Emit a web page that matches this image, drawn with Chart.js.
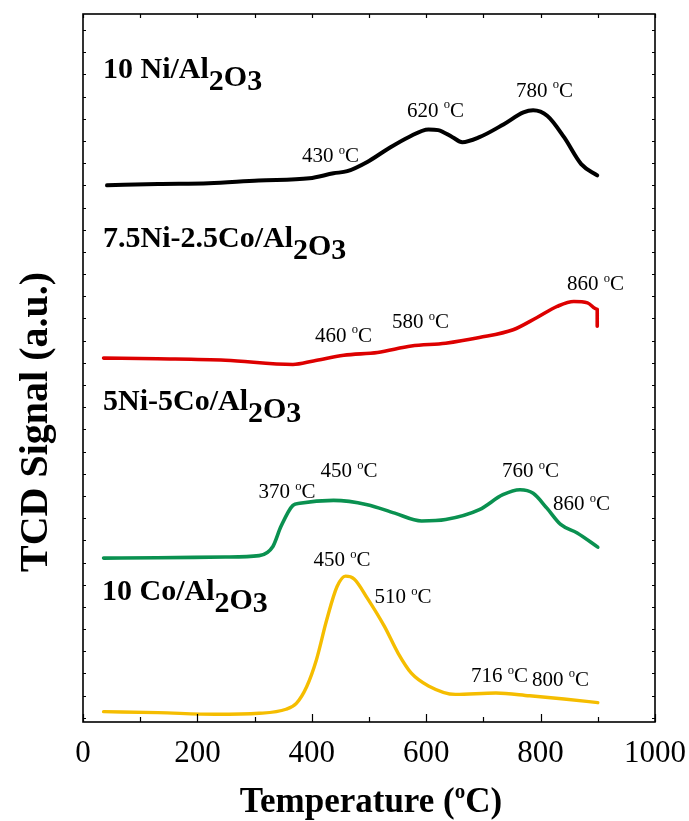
<!DOCTYPE html>
<html><head><meta charset="utf-8">
<script src="https://cdn.jsdelivr.net/npm/chart.js@4/dist/chart.umd.min.js"></script>
<style>html,body{margin:0;padding:0;background:#fff}#wrap{width:689px;height:821px}canvas{display:block}</style>
</head><body><div id="wrap"><canvas id="c" width="689" height="821"></canvas></div>
<script>
// ---- data ----
const seriesNames = ['10 Ni/Al2O3', '7.5Ni-2.5Co/Al2O3', '5Ni-5Co/Al2O3', '10 Co/Al2O3'];

const ni10Temp   = [42, 131, 220, 307, 396, 438, 462, 497, 532, 569, 604, 621, 646, 663, 693, 735, 770, 787, 812, 841, 871, 899];
const ni10Signal = [75.8, 76.0, 76.1, 76.5, 76.8, 77.5, 77.8, 79.1, 80.9, 82.6, 83.7, 83.6, 82.6, 81.9, 82.6, 84.4, 86.1, 86.4, 85.6, 82.6, 78.8, 77.2];

const ni75Temp   = [36, 130, 249, 367, 403, 456, 515, 574, 634, 693, 752, 793, 829, 858, 882, 899, 899];
const ni75Signal = [51.4, 51.3, 51.1, 50.5, 51.0, 51.8, 52.2, 53.1, 53.5, 54.3, 55.4, 57.1, 58.7, 59.4, 59.2, 58.3, 55.9];

const ni5Temp    = [36, 130, 249, 308, 332, 346, 367, 379, 438, 497, 545, 592, 634, 693, 734, 764, 787, 811, 835, 864, 900];
const ni5Signal  = [23.15, 23.2, 23.3, 23.5, 24.8, 27.6, 30.6, 30.9, 31.3, 30.7, 29.5, 28.4, 28.6, 30.0, 32.1, 32.8, 32.3, 30.2, 27.9, 26.7, 24.7];

const co10Temp   = [36, 131, 231, 308, 355, 373, 391, 408, 426, 444, 459, 474, 497, 527, 551, 574, 604, 651, 722, 781, 841, 900];
const co10Signal = [1.46, 1.32, 1.09, 1.23, 1.80, 2.64, 4.99, 8.77, 14.4, 19.1, 20.6, 20.2, 17.5, 13.5, 9.7, 6.9, 5.1, 3.9, 4.1, 3.7, 3.25, 2.73];

const xTickLabels = [0, 200, 400, 600, 800, 1000];

const ni10Peaks = [430, 620, 780];
const ni75Peaks = [460, 580, 860];
const ni5Peaks  = [370, 450, 760, 860];
const co10Peaks = [450, 510, 716, 800];

// ---- layout (label anchors in axis units; not data) ----
const nameAnchors = [[35, 91.0], [35, 67.1], [35, 44.1], [33.2, 17.2]];
const peakAnchors = [
  [[382.9, 79.1], [566.4, 85.5], [757, 88.3]],
  [[405.6, 53.7], [540.2, 55.6], [846.2, 61.0]],
  [[306.8, 31.6], [415.2, 34.6], [732.5, 34.6], [821.7, 29.9]],
  [[403.1, 22.0], [509.6, 16.8], [678.3, 5.6], [785, 5.1]]
];
const colors = ['#000000', '#dd0000', '#0a9150', '#f5bd00'];
const widths = [4, 3.6, 3.6, 3.4];
const FONT = '"Liberation Serif", "Times New Roman", serif';

const temps = [ni10Temp, ni75Temp, ni5Temp, co10Temp];
const signals = [ni10Signal, ni75Signal, ni5Signal, co10Signal];
const peaks = [ni10Peaks, ni75Peaks, ni5Peaks, co10Peaks];

function richify(name) { return name.replace('Al2O3', 'Al{_2}{~O}{_3}'); }

function parseRich(str) {
  const out = []; const re = /\{([\^_~])([^}]*)\}/g; let last = 0, m;
  while ((m = re.exec(str))) {
    if (m.index > last) out.push({ t: str.slice(last, m.index), k: '' });
    out.push({ t: m[2], k: m[1] });
    last = re.lastIndex;
  }
  if (last < str.length) out.push({ t: str.slice(last), k: '' });
  return out;
}
function segStyle(k, size) {
  if (k === '^') return { s: size * 0.6, dy: -size * 0.40 };
  if (k === '_') return { s: size, dy: size * 0.40 };
  if (k === '~') return { s: size, dy: size * 0.28 };
  return { s: size, dy: 0 };
}
function richWidth(ctx, str, size, weight) {
  let w = 0;
  for (const seg of parseRich(str)) { const st = segStyle(seg.k, size); ctx.font = `${weight} ${st.s}px ${FONT}`; w += ctx.measureText(seg.t).width; }
  return w;
}
function drawRich(ctx, str, x, y, size, weight, align) {
  if (align === 'center') x -= richWidth(ctx, str, size, weight) / 2;
  ctx.textBaseline = 'alphabetic'; ctx.textAlign = 'left'; ctx.fillStyle = '#000';
  for (const seg of parseRich(str)) {
    const st = segStyle(seg.k, size);
    ctx.font = `${weight} ${st.s}px ${FONT}`;
    ctx.fillText(seg.t, x, y + st.dy);
    x += ctx.measureText(seg.t).width;
  }
}

const decor = {
  id: 'decor',
  afterDraw(chart) {
    const ctx = chart.ctx, a = chart.chartArea, xs = chart.scales.x, ys = chart.scales.y;
    ctx.save();
    ctx.strokeStyle = '#000'; ctx.lineWidth = 1.6;
    ctx.strokeRect(a.left, a.top, a.right - a.left, a.bottom - a.top);
    ctx.lineWidth = 1.2;
    ctx.beginPath();
    for (let v = 0; v <= 1000; v += 100) {
      const px = Math.round(xs.getPixelForValue(v)) + 0.5;
      const len = v % 200 === 0 ? 8 : 5;
      ctx.moveTo(px, a.bottom); ctx.lineTo(px, a.bottom - len);
      ctx.moveTo(px, a.top); ctx.lineTo(px, a.top + 4);
    }
    for (let v = 97.74; v > 0.3; v -= 3.134) {
      const py = Math.round(ys.getPixelForValue(v)) + 0.5;
      ctx.moveTo(a.left, py); ctx.lineTo(a.left + 3, py);
      ctx.moveTo(a.right, py); ctx.lineTo(a.right - 3, py);
    }
    ctx.stroke();
    // series names
    seriesNames.forEach((n, i) => {
      const [vx, vy] = nameAnchors[i];
      drawRich(ctx, richify(n), xs.getPixelForValue(vx), ys.getPixelForValue(vy), 30, 'bold');
    });
    // peak labels
    peaks.forEach((list, i) => list.forEach((t, j) => {
      const [vx, vy] = peakAnchors[i][j];
      drawRich(ctx, `${t} {^o}C`, xs.getPixelForValue(vx), ys.getPixelForValue(vy), 21, 'normal');
    }));
    // axis titles
    drawRich(ctx, 'Temperature ({^o}C)', 371, 812, 35, 'bold', 'center');
    ctx.translate(47, 422); ctx.rotate(-Math.PI / 2);
    drawRich(ctx, 'TCD Signal (a.u.)', 0, 0, 40, 'bold', 'center');
    ctx.restore();
  }
};

new Chart(document.getElementById('c'), {
  type: 'scatter',
  data: {
    datasets: temps.map((t, i) => ({
      label: seriesNames[i],
      data: t.map((x, k) => ({ x, y: signals[i][k] })),
      showLine: true, fill: false,
      borderColor: colors[i], borderWidth: widths[i],
      pointRadius: 0, cubicInterpolationMode: 'monotone',
      borderCapStyle: 'round', borderJoinStyle: 'round'
    }))
  },
  options: {
    responsive: false, animation: false, events: [],
    layout: { padding: { left: 83, top: 14, right: 34, bottom: 0 } },
    plugins: { legend: { display: false }, tooltip: { enabled: false } },
    scales: {
      x: {
        type: 'linear', min: 0, max: 1000,
        afterBuildTicks(s) { s.ticks = xTickLabels.map(v => ({ value: v })); },
        ticks: { font: { family: FONT, size: 31 }, color: '#000', padding: 5, maxRotation: 0, autoSkip: false,
                 callback: v => String(v) },
        grid: { display: false }, border: { display: false },
        afterFit(s) { s.height = 99; s.paddingLeft = 0; s.paddingRight = 0; }
      },
      y: { min: 0, max: 100, display: false }
    }
  },
  plugins: [decor]
});
</script></body></html>
